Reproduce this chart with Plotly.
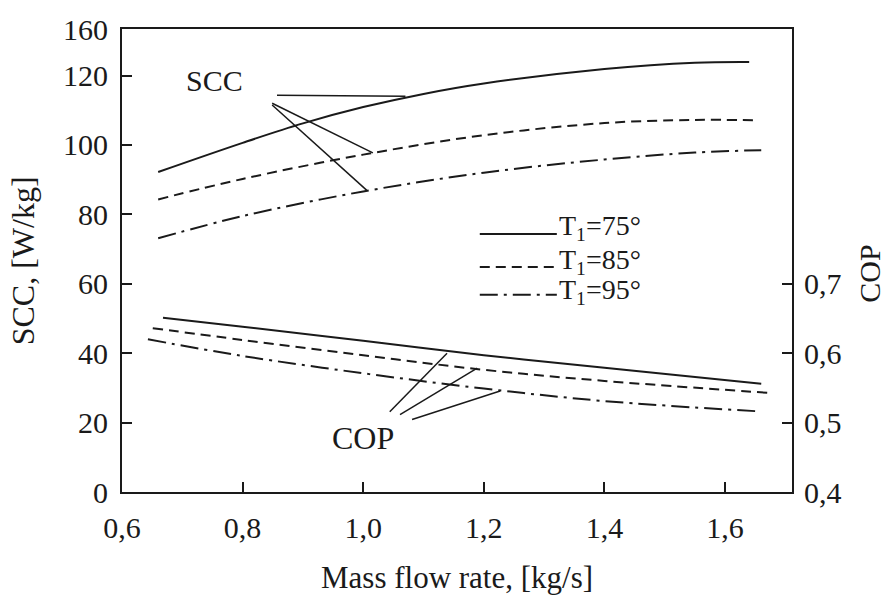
import plotly.graph_objects as go

# Specific cooling capacity, SCC [W/kg], versus mass flow rate [kg/s]
x_scc75 = [0.66, 0.8, 0.9, 1.0, 1.1, 1.2, 1.4, 1.55, 1.64]
scc75 = [92.2, 100.6, 106.2, 110.9, 114.7, 117.7, 121.9, 123.7, 123.9]
x_scc85 = [0.66, 0.8, 1.0, 1.2, 1.4, 1.55, 1.65]
scc85 = [84.3, 90.2, 97.2, 102.8, 106.3, 107.2, 107.1]
x_scc95 = [0.66, 0.8, 1.0, 1.2, 1.4, 1.55, 1.66]
scc95 = [73.1, 79.5, 86.6, 92.0, 95.8, 97.8, 98.5]

# Coefficient of performance, COP (right axis)
x_cop75 = [0.668, 0.8, 1.0, 1.2, 1.4, 1.66]
cop75 = [0.651, 0.638, 0.618, 0.597, 0.579, 0.556]
x_cop85 = [0.651, 0.8, 1.0, 1.2, 1.4, 1.67]
cop85 = [0.636, 0.619, 0.597, 0.576, 0.560, 0.543]
x_cop95 = [0.643, 0.8, 1.0, 1.2, 1.4, 1.66]
cop95 = [0.620, 0.596, 0.571, 0.549, 0.531, 0.516]

legend_labels = ["T<sub>1</sub>=75°", "T<sub>1</sub>=85°", "T<sub>1</sub>=95°"]
dash_styles = ["solid", "10px,6px", "18px,6px,3px,6px"]

x_ticks = [0.6, 0.8, 1.0, 1.2, 1.4, 1.6]
x_ticktext = ["0,6", "0,8", "1,0", "1,2", "1,4", "1,6"]
scc_top = 133.4
y_ticks = [0, 20, 40, 60, 80, 100, 120, scc_top]
y_ticktext = ["0", "20", "40", "60", "80", "100", "120", "160"]
cop_ticks = [0.4, 0.5, 0.6, 0.7]
cop_ticktext = ["0,4", "0,5", "0,6", "0,7"]

# leader lines from the curve labels, in (x, SCC) coordinates
scc_leaders = [((0.857, 114.3), (1.07, 114.0)),
               ((0.849, 112.0), (1.016, 97.7)),
               ((0.849, 111.5), (1.006, 86.9))]
cop_leaders = [((1.044, 23.1), (1.139, 40.0)),
               ((1.061, 22.3), (1.189, 35.7)),
               ((1.081, 20.9), (1.227, 29.1))]

ink = "#1a1a1a"
serif = "Liberation Serif"

fig = go.Figure()

for xs, ys, d in zip([x_scc75, x_scc85, x_scc95], [scc75, scc85, scc95], dash_styles):
    fig.add_trace(go.Scatter(x=xs, y=ys, mode="lines", line=dict(color=ink, width=2, dash=d, shape="spline"),
                             showlegend=False, hoverinfo="skip"))

for xs, ys, d in zip([x_cop75, x_cop85, x_cop95], [cop75, cop85, cop95], dash_styles):
    fig.add_trace(go.Scatter(x=xs, y=ys, yaxis="y2", mode="lines",
                             line=dict(color=ink, width=2, dash=d, shape="spline"),
                             showlegend=False, hoverinfo="skip"))

for (x0, y0), (x1, y1) in scc_leaders + cop_leaders:
    fig.add_shape(type="line", xref="x", yref="y", x0=x0, y0=y0, x1=x1, y1=y1,
                  line=dict(color=ink, width=1.5))

# hand-drawn style legend
leg_x0, leg_x1 = 0.534, 0.649
leg_y = [0.557, 0.486, 0.426]
text_y = [0.572, 0.497, 0.433]
for ly, ty, d, lab in zip(leg_y, text_y, dash_styles, legend_labels):
    fig.add_shape(type="line", xref="paper", yref="paper", x0=leg_x0, x1=leg_x1, y0=ly, y1=ly,
                  line=dict(color=ink, width=2, dash=d))
    fig.add_annotation(x=leg_x1, y=ty, xref="paper", yref="paper", text=lab, showarrow=False,
                       xanchor="left", yanchor="middle", font=dict(family=serif, size=28, color=ink))

fig.add_annotation(x=0.754, y=118.5, xref="x", yref="y", text="SCC", showarrow=False,
                   xanchor="center", yanchor="middle", font=dict(family=serif, size=30, color=ink))
fig.add_annotation(x=1.0, y=15.7, xref="x", yref="y", text="COP", showarrow=False,
                   xanchor="center", yanchor="middle", font=dict(family=serif, size=32, color=ink))

# axis titles
fig.add_annotation(x=-0.148, y=0.50, xref="paper", yref="paper", text="SCC, [W/kg]", textangle=-90,
                   showarrow=False, xanchor="center", yanchor="middle",
                   font=dict(family=serif, size=32, color=ink))
fig.add_annotation(x=1.116, y=0.471, xref="paper", yref="paper", text="COP", textangle=-90,
                   showarrow=False, xanchor="center", yanchor="middle",
                   font=dict(family=serif, size=30, color=ink))
fig.add_annotation(x=0.5, y=-0.184, xref="paper", yref="paper", text="Mass flow rate, [kg/s]",
                   showarrow=False, xanchor="center", yanchor="middle",
                   font=dict(family=serif, size=31, color=ink))

fig.update_layout(
    width=889, height=602,
    margin=dict(l=122, r=97, t=25, b=110),
    paper_bgcolor="white", plot_bgcolor="white",
    font=dict(family=serif, size=30, color=ink),
    xaxis=dict(range=[0.6, 1.711], tickvals=x_ticks, ticktext=x_ticktext, ticks="inside", ticklen=10,
               tickwidth=2, tickcolor=ink, showline=True, linewidth=2, linecolor=ink, mirror=True,
               showgrid=False, zeroline=False, ticklabelstandoff=8),
    yaxis=dict(range=[0, scc_top], tickvals=y_ticks, ticktext=y_ticktext, ticks="inside", ticklen=10,
               tickwidth=2, tickcolor=ink, showline=True, linewidth=2, linecolor=ink, mirror=True,
               showgrid=False, zeroline=False, ticklabelstandoff=6),
    yaxis2=dict(range=[0.4, 0.4 + scc_top / 200], overlaying="y", side="right", tickvals=cop_ticks,
                ticktext=cop_ticktext, ticks="inside", ticklen=10, tickwidth=2, tickcolor=ink,
                showline=True, linewidth=2, linecolor=ink, showgrid=False, zeroline=False,
                ticklabelstandoff=4),
)

fig.write_html("out.html")
